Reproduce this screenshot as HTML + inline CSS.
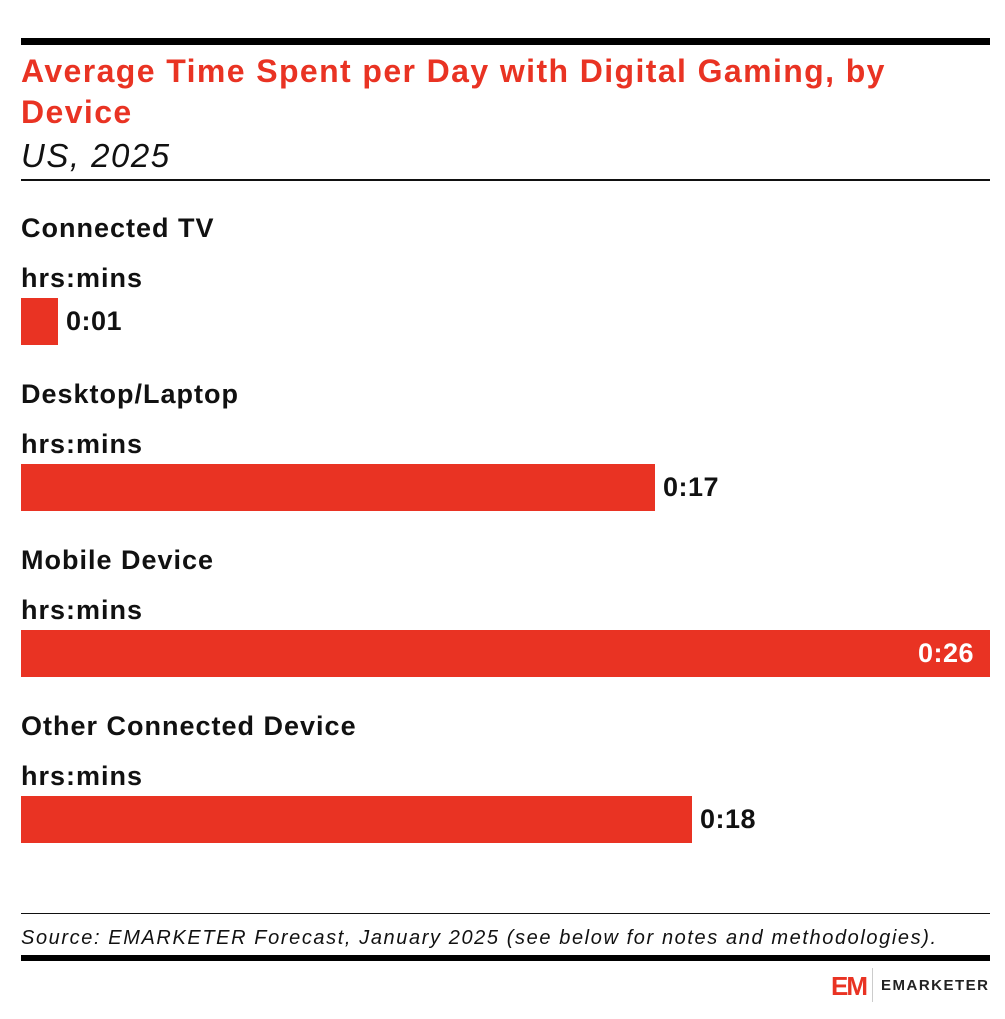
<!DOCTYPE html>
<html><head><style>
body{margin:0;width:1005px;height:1019px;background:#fff;position:relative;font-family:"Liberation Sans",sans-serif;overflow:hidden}
div{position:absolute;white-space:nowrap}
.t{color:#e93323;font-weight:bold;font-size:32px;letter-spacing:1.4px;left:21px;line-height:40px}
.l{left:21px;font-weight:bold;font-size:27px;letter-spacing:1px;color:#111;line-height:30px}
.bar{left:21px;height:47px;background:#e93323}
.v{font-weight:bold;font-size:27px;letter-spacing:0.5px;color:#111;line-height:47px}
</style></head><body>
<div style="left:21px;top:38px;width:969px;height:7px;background:#000"></div>
<div class="t" style="top:51px">Average Time Spent per Day with Digital Gaming, by</div>
<div class="t" style="top:92px">Device</div>
<div style="left:21px;top:136px;font-size:33px;letter-spacing:1.5px;font-style:italic;color:#111;line-height:40px">US, 2025</div>
<div style="left:21px;top:179px;width:969px;height:2px;background:#111"></div>

<div class="l" style="top:213px">Connected TV</div>
<div class="l" style="top:263px">hrs:mins</div>
<div class="bar" style="top:298px;width:37px"></div>
<div class="v" style="left:66px;top:298px">0:01</div>

<div class="l" style="top:379px">Desktop/Laptop</div>
<div class="l" style="top:429px">hrs:mins</div>
<div class="bar" style="top:464px;width:634px"></div>
<div class="v" style="left:663px;top:464px">0:17</div>

<div class="l" style="top:545px">Mobile Device</div>
<div class="l" style="top:595px">hrs:mins</div>
<div class="bar" style="top:630px;width:969px"></div>
<div class="v" style="left:918px;top:630px;color:#fff">0:26</div>

<div class="l" style="top:711px">Other Connected Device</div>
<div class="l" style="top:761px">hrs:mins</div>
<div class="bar" style="top:796px;width:671px"></div>
<div class="v" style="left:700px;top:796px">0:18</div>

<div style="left:21px;top:913px;width:969px;height:1px;background:#111"></div>
<div style="left:21px;top:926px;font-size:20px;letter-spacing:1.6px;font-style:italic;color:#111;line-height:24px">Source: EMARKETER Forecast, January 2025 (see below for notes and methodologies).</div>
<div style="left:21px;top:955px;width:969px;height:6px;background:#000"></div>
<div style="left:831px;top:974px;font-weight:bold;font-size:26px;color:#e93323;line-height:24px;letter-spacing:-2px">EM</div>
<div style="left:872px;top:968px;width:1px;height:34px;background:#ccc"></div>
<div style="left:881px;top:977px;font-weight:bold;font-size:15px;color:#222;letter-spacing:1.5px;line-height:18px">EMARKETER</div>
</body></html>
